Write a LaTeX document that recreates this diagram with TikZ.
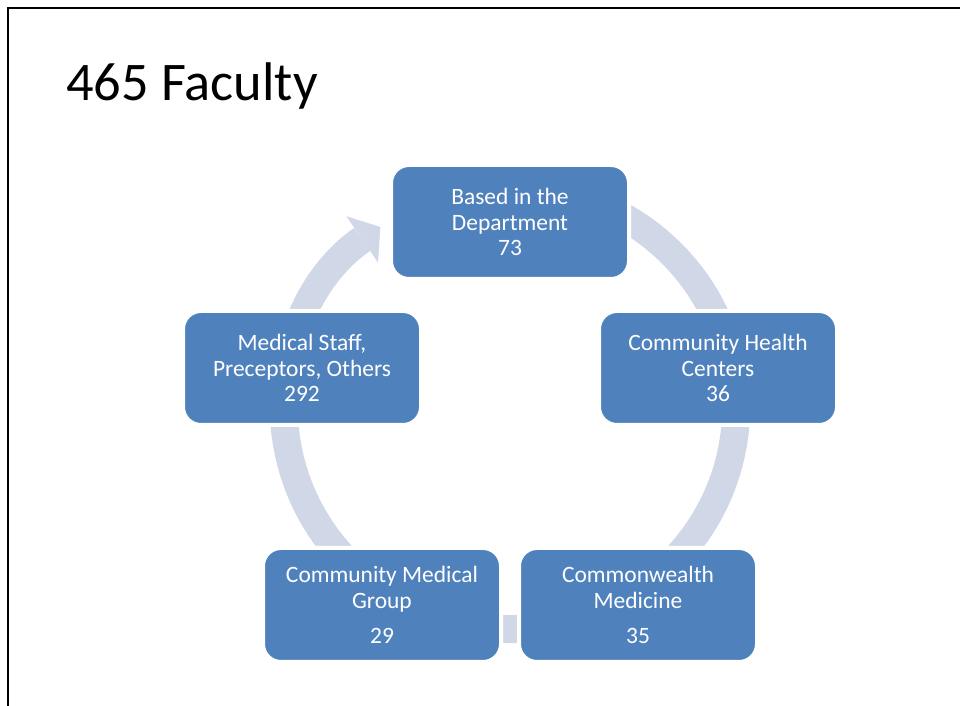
\documentclass[tikz,border=0pt]{standalone}
\usepackage{fontspec}
\setmainfont{Carlito}
\usetikzlibrary{arrows.meta}
\definecolor{facblue}{RGB}{79,129,189}
\definecolor{facring}{RGB}{208,216,232}

\begin{document}
\begin{tikzpicture}[
    x=0.75pt, y=0.75pt,
    facbox/.style={rectangle, rounded corners=13.5pt, draw=white, line width=3pt,
                   fill=facblue, minimum width=178.5pt, minimum height=85.5pt,
                   text=white, align=center, inner sep=0pt,
                   font=\fontsize{17.6pt}{19.2pt}\selectfont},
    ringarc/.style={draw=facring, line width=21pt,
                    -{Triangle[length=16.5pt, width=42pt, line width=0pt]}},
    frame/.style={black, line width=1.5pt}
]
\useasboundingbox (0,0) rectangle (960,706);
\draw[frame] (7.5,0) |- (960,698);
\node[anchor=base west, inner sep=0pt,
      font=\fontsize{40.8pt}{48pt}\selectfont] (title) at (66,605) {465 Faculty};
% ring behind the five groups
\coordinate (C) at (510,298);
\draw[ringarc] (C) ++(110:226 and 221)
    arc[start angle=110, end angle=-235, x radius=226, y radius=221];
\node[facbox] (dept)  at (510,484) {Based in the\\Department\\73};
\node[facbox] (chc)   at (718,338) {Community Health\\Centers\\36};
\node[facbox] (cwm)   at (638,101) {Commonwealth\\Medicine\\[7pt]35};
\node[facbox] (cmg)   at (382,101) {Community Medical\\Group\\[7pt]29};
\node[facbox] (staff) at (302,338) {Medical Staff,\\Preceptors, Others\\292};
\end{tikzpicture}
\end{document}
